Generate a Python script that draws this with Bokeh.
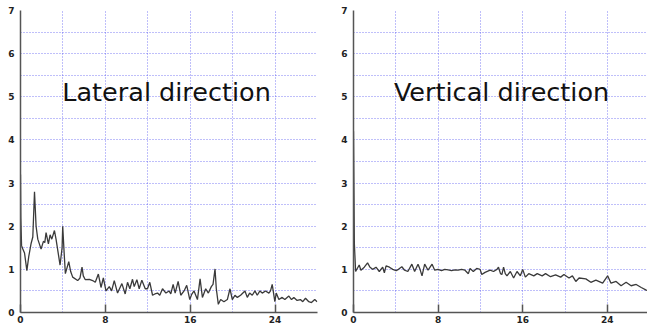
from bokeh.plotting import figure
from bokeh.layouts import row
from bokeh.models import FixedTicker, Range1d, Label
from bokeh.embed import file_html
from bokeh.resources import INLINE

# ---- data ----
x_ticks = [0, 8, 16, 24]
x_minor = [0, 4, 8, 12, 16, 20, 24, 28]
y_ticks = [0, 1, 2, 3, 4, 5, 6, 7]
y_minor = [0.5 * i for i in range(15)]

lateral_x = [0, 0.03, 0.1, 0.22, 0.38, 0.6, 0.78, 1.0, 1.16, 1.32, 1.47, 1.63, 1.94, 2.16, 2.29,
             2.41, 2.63, 2.79, 2.95, 3.2, 3.35, 3.73, 3.92, 3.98, 4.11, 4.23, 4.55, 4.73, 4.92,
             5.39, 5.61, 5.8, 5.92, 6.11, 6.49, 6.8, 7.05, 7.34, 7.59, 7.81, 8.06, 8.37, 8.59,
             8.84, 9.15, 9.56, 9.87, 10.09, 10.31, 10.56, 10.72, 10.97, 11.19, 11.44, 11.76,
             11.97, 12.19, 12.45, 12.67, 12.92, 13.13, 13.39, 13.71, 14.01, 14.17, 14.39, 14.58,
             14.86, 15.11, 15.42, 15.67, 15.96, 16.14, 16.36, 16.68, 16.93, 17.15, 17.46, 17.71,
             17.99, 18.15, 18.34, 18.46, 18.65, 18.87, 19.18, 19.5, 19.75, 19.97, 20.22, 20.44,
             20.75, 21.16, 21.38, 21.6, 21.85, 22.1, 22.32, 22.57, 22.79, 23.1, 23.42, 23.57,
             23.73, 23.98, 24.11, 24.36, 24.67, 24.92, 25.3, 25.55, 25.77, 26.08, 26.39, 26.61,
             26.87, 27.18, 27.43, 27.74, 27.96]
lateral_y = [3.2, 2.2, 1.55, 1.47, 1.38, 0.97, 1.3, 1.6, 1.75, 2.8, 2.0, 1.7, 1.47, 1.65, 1.62,
             1.85, 1.59, 1.8, 1.7, 1.9, 1.7, 1.1, 1.5, 2.0, 1.4, 0.9, 1.18, 0.95, 0.82,
             0.74, 0.8, 1.05, 0.85, 0.76, 0.77, 0.74, 0.7, 0.89, 0.58, 0.8, 0.5, 0.6, 0.5,
             0.74, 0.45, 0.67, 0.43, 0.7, 0.55, 0.77, 0.6, 0.76, 0.55, 0.75, 0.55,
             0.55, 0.7, 0.4, 0.43, 0.45, 0.4, 0.55, 0.45, 0.5, 0.43, 0.65, 0.45,
             0.72, 0.4, 0.5, 0.63, 0.3, 0.42, 0.5, 0.3, 0.78, 0.35, 0.55, 0.45,
             0.6, 0.65, 1.01, 0.55, 0.19, 0.3, 0.25, 0.3, 0.55, 0.3, 0.4, 0.35,
             0.4, 0.5, 0.35, 0.45, 0.4, 0.5, 0.4, 0.5, 0.45, 0.5, 0.45, 0.5,
             0.65, 0.25, 0.45, 0.3, 0.35, 0.3, 0.38, 0.3, 0.35, 0.28, 0.3, 0.25,
             0.33, 0.25, 0.23, 0.3, 0.25]

vertical_x = [0, 0.08, 0.2, 0.54, 0.7, 1.02, 1.33, 1.56, 1.81, 2.13, 2.44, 2.76, 2.92, 3.08, 3.4,
              3.71, 4.03, 4.25, 4.57, 4.83, 5.14, 5.52, 5.78, 6.1, 6.29, 6.48, 6.73, 7.05, 7.43,
              7.68, 8.0, 8.32, 8.63, 8.95, 9.27, 9.59, 9.9, 10.22, 10.54, 10.86, 11.02, 11.33,
              11.65, 11.97, 12.13, 12.44, 12.92, 13.24, 13.56, 13.71, 13.9, 14.03, 14.19, 14.35,
              14.51, 14.83, 15.14, 15.46, 15.78, 16.0, 16.25, 16.57, 17.05, 17.37, 17.84, 18.16,
              18.63, 19.11, 19.59, 19.9, 20.38, 20.7, 21.02, 21.33, 21.97, 22.44, 22.92, 23.56,
              24.03, 24.35, 24.83, 25.3, 25.78, 26.25, 26.73, 27.21, 27.68, 27.94]
vertical_y = [4.2, 1.6, 0.95, 1.1, 0.98, 1.05, 1.15, 1.05, 1.0, 1.05, 0.95, 1.05, 0.92, 1.08, 1.05,
              1.0, 0.97, 1.0, 1.06, 0.98, 0.95, 1.12, 0.95, 1.12, 1.0, 0.85, 1.12, 0.98, 1.12,
              0.98, 1.0, 0.97, 1.0, 0.99, 0.97, 0.99, 0.98, 1.0, 0.98, 0.9, 1.02, 0.95,
              1.02, 1.0, 0.88, 0.93, 0.98, 0.95, 1.0, 1.05, 0.9, 0.88, 1.05, 0.9,
              0.85, 0.95, 0.8, 0.95, 0.85, 1.0, 0.82, 0.9, 0.85, 0.9, 0.85, 0.9,
              0.83, 0.87, 0.82, 0.88, 0.8, 0.85, 0.72, 0.8, 0.78, 0.7, 0.75, 0.68,
              0.85, 0.68, 0.72, 0.62, 0.7, 0.62, 0.65, 0.58, 0.52, 0.5]

titles = ["Lateral direction", "Vertical direction"]

GRID = "#3c3cf0"
AXIS = "#555555"
HEIGHT = 325


def make_panel(xs, ys, title, width, border_left, border_right, x_end, title_x):
    p = figure(width=width, height=HEIGHT, x_range=Range1d(0, x_end), y_range=Range1d(0, 7),
               output_backend="svg", toolbar_location=None,
               min_border_left=border_left, min_border_right=border_right,
               min_border_top=10, min_border_bottom=0)
    p.outline_line_color = None
    p.background_fill_color = "white"
    p.border_fill_color = "white"

    p.xaxis.ticker = FixedTicker(ticks=x_ticks, minor_ticks=x_minor)
    p.yaxis.ticker = FixedTicker(ticks=y_ticks, minor_ticks=y_minor)

    for g in (p.xgrid, p.ygrid):
        g.grid_line_color = None
        g.minor_grid_line_color = GRID
        g.minor_grid_line_alpha = 0.65
        g.minor_grid_line_dash = "1 2"
        g.minor_grid_line_width = 1

    for ax in (p.xaxis, p.yaxis):
        ax.axis_line_color = AXIS
        ax.axis_line_width = 1.5
        ax.minor_tick_in = 0
        ax.minor_tick_out = 0
        ax.major_label_text_font = "DejaVu Sans"
        ax.major_label_text_font_style = "bold"
        ax.major_label_text_font_size = "9px"
        ax.major_label_text_color = "#222222"
        ax.major_tick_line_color = AXIS
        ax.major_tick_line_width = 1.5
    p.xaxis.major_tick_in = 8
    p.xaxis.major_tick_out = 0
    p.xaxis.major_label_standoff = 3
    p.yaxis.major_tick_in = 0
    p.yaxis.major_tick_out = 0
    p.yaxis.major_label_standoff = 6

    p.line(xs, ys, line_color="#3a3a3a", line_width=1.3)

    p.add_layout(Label(x=title_x, y=5.11, text=title, text_font="DejaVu Sans",
                       text_font_size="25.5px", text_color="#111111",
                       text_align="center", text_baseline="alphabetic"))
    return p


p1 = make_panel(lateral_x, lateral_y, titles[0], 329, 20, 12, 28, 13.77)
p2 = make_panel(vertical_x, vertical_y, titles[1], 318, 24, 0, 27.8, 14.0)

layout = row(p1, p2)
open("out.html", "w").write(file_html(layout, INLINE))
